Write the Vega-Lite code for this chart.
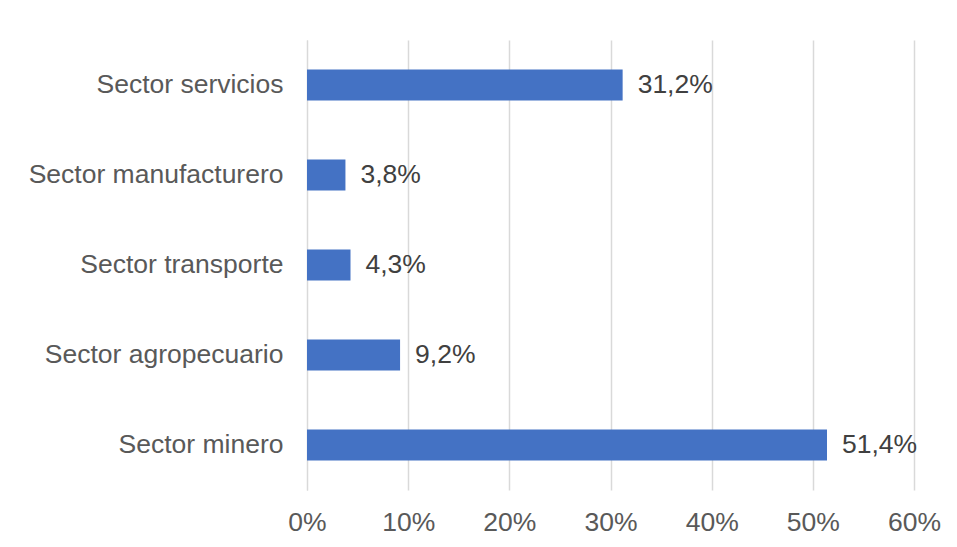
{
  "$schema": "https://vega.github.io/schema/vega-lite/v6.json",
  "autosize": {"type": "none"},
  "width": 607,
  "height": 450,
  "padding": {"left": 307, "top": 40, "right": 43, "bottom": 57},
  "background": "white",
  "config": {
    "view": {"stroke": null},
    "font": "Liberation Sans",
    "locale": {"number": {"decimal": ",", "thousands": ".", "grouping": [3], "currency": ["", " €"]}}
  },
  "data": {
    "values": [
      {"sector": "Sector servicios", "valor": 0.312},
      {"sector": "Sector manufacturero", "valor": 0.038},
      {"sector": "Sector transporte", "valor": 0.043},
      {"sector": "Sector agropecuario", "valor": 0.092},
      {"sector": "Sector minero", "valor": 0.514}
    ]
  },
  "encoding": {
    "y": {
      "field": "sector", "type": "nominal", "sort": null, "title": null,
      "scale": {"paddingInner": 0.656, "paddingOuter": 0.328},
      "axis": {"domain": true, "domainColor": "#d9d9d9", "ticks": false, "labelFontSize": 26.5, "labelColor": "#595959", "labelPadding": 24, "labelLimit": 400}
    },
    "x": {
      "field": "valor", "type": "quantitative", "title": null,
      "scale": {"domain": [0, 0.6], "nice": false},
      "axis": {"format": ".0%", "values": [0, 0.1, 0.2, 0.3, 0.4, 0.5, 0.6], "domain": false, "ticks": false, "grid": true, "gridColor": "#d9d9d9", "gridWidth": 1.5, "labelFontSize": 26.5, "labelColor": "#595959", "labelPadding": 19, "labelFlush": false}
    }
  },
  "layer": [
    {"mark": {"type": "bar", "color": "#4472C4"}},
    {
      "mark": {"type": "text", "align": "left", "baseline": "middle", "dx": 15, "fontSize": 26.5, "color": "#404040"},
      "encoding": {"text": {"field": "valor", "type": "quantitative", "format": ".1%"}}
    }
  ]
}
